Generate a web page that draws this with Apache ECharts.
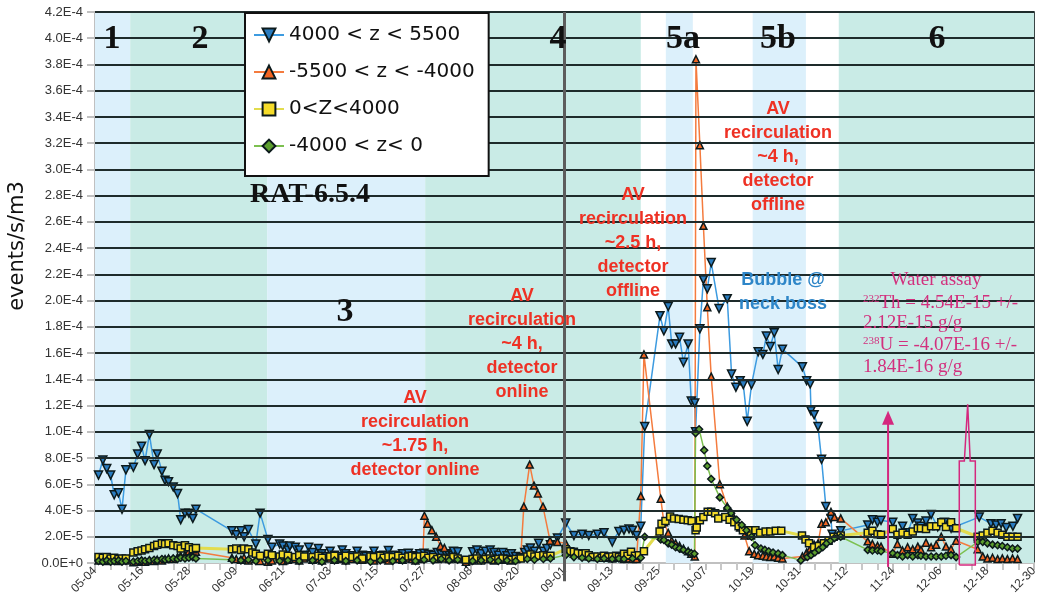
<!DOCTYPE html>
<html>
<head>
<meta charset="utf-8">
<script src="https://cdn.jsdelivr.net/npm/echarts@6.0.0/dist/echarts.min.js"></script>
<style>
html, body { margin: 0; padding: 0; background: #fff; }
#chart { width: 1042px; height: 610px; }
</style>
</head>
<body>
<div id="chart"></div>
<script>
// x = days since 05-04, y = rate in units of 1E-5 events/s/m3
var dayTicks = ['05-04', '05-16', '05-28', '06-09', '06-21', '07-03', '07-15', '07-27', '08-08', '08-20', '09-01',
    '09-13', '09-25', '10-07', '10-19', '10-31', '11-12', '11-24', '12-06', '12-18', '12-30'];

var seriesNames = ['4000 < z < 5500', '-5500 < z < -4000', '0<Z<4000', '-4000 < z< 0'];

var topZ = [[0.9,6.7],[2.0,7.85],[3.0,7.2],[4.0,6.7],[4.9,5.2],[6.0,5.35],[6.9,4.1],[7.9,7.1],[9.8,7.3],[10.9,8.3],
    [11.9,8.9],[12.8,7.8],[13.9,9.8],[15.1,7.5],[15.9,8.3],[17.1,7.0],[17.9,6.3],[18.8,6.2],[20.0,5.8],[21.1,5.3],
    [21.9,3.3],[23.0,3.8],[24.0,3.8],[25.0,3.4],[25.8,4.1],[35.0,2.45],[36.1,2.15],[37.3,2.45],[38.1,2.0],[39.2,2.55],
    [41.1,1.45],[42.2,3.8],[44.2,1.8],[45.2,1.2],[47.2,1.45],[48.0,1.3],[49.3,1.0],[49.8,1.3],[51.2,1.2],[52.2,1.0],
    [53.5,0.6],[54.6,1.2],[55.6,0.8],[57.1,1.1],[58.0,0.7],[59.1,0.5],[60.1,0.9],[61.2,0.6],[62.1,0.5],[63.2,1.0],
    [64.1,0.7],[65.0,0.5],[65.8,0.55],[67.0,0.9],[68.3,0.6],[69.2,0.5],[70.4,0.55],[71.3,0.9],[72.9,0.55],[73.8,0.6],
    [75.0,0.95],[76.1,0.6],[77.5,0.55],[78.6,0.7],[80.1,0.75],[81.0,0.5],[81.9,0.55],[83.0,0.7],[84.1,0.75],[85.2,0.65],
    [86.4,0.6],[87.5,0.8],[88.5,0.65],[89.6,0.7],[90.5,0.6],[91.6,0.9],[92.7,0.85],[94.8,0.0],[96.5,0.85],[97.6,1.0],
    [98.7,0.7],[99.8,0.9],[101.0,1.0],[102.0,0.8],[103.1,0.6],[104.2,0.8],[105.3,0.55],[106.4,0.7],[107.5,0.5],[108.8,0.4],
    [109.8,0.8],[110.5,1.0],[111.3,1.15],[112.3,0.9],[113.4,1.5],[114.6,0.9],[115.5,1.1],[116.4,1.4],[118.2,1.9],[120.3,3.05],
    [122.4,2.1],[124.5,2.2],[126.2,2.1],[128.4,2.2],[130.1,2.3],[132.2,1.6],[133.9,2.4],[135.2,2.5],[136.5,2.6],[137.4,2.5],
    [138.4,2.1],[139.5,2.8],[140.5,10.4],[144.4,18.85],[145.4,17.7],[146.5,19.55],[147.4,16.7],[148.4,16.7],[149.4,17.2],[150.4,15.3],
    [151.6,16.7],[152.4,12.35],[153.3,12.2],[153.5,10.0],[154.6,17.85],[155.5,21.6],[156.5,20.9],[157.5,22.9],[159.5,19.4],[161.6,20.15],
    [162.7,14.4],[163.8,13.4],[164.9,13.9],[165.7,13.6],[166.7,10.8],[167.8,13.6],[169.5,16.1],[170.7,15.9],[171.6,17.3],[172.6,16.5],
    [173.6,17.55],[174.6,14.75],[175.7,16.3],[180.8,14.95],[181.9,13.9],[182.8,13.65],[183.0,11.6],[183.8,11.3],[184.8,10.4],[185.7,7.9],
    [186.8,4.3],[188.1,3.4],[188.4,2.2],[190.6,2.45],[197.5,2.9],[198.7,3.3],[200.0,3.1],[200.9,3.25],[203.9,3.1],[205.1,2.0],
    [206.4,2.8],[207.7,2.3],[209.0,3.4],[210.3,3.05],[211.1,2.8],[212.4,3.2],[213.7,3.7],[215.4,2.75],[217.1,3.1],[218.8,2.65],
    [226.0,3.5],[229.0,3.0],[230.3,2.9],[231.6,3.0],[232.9,2.7],[234.6,2.8],[235.8,3.4]];

var bottomZ = [[0.9,0.2],[2.0,0.25],[3.0,0.15],[4.0,0.3],[4.9,0.2],[6.0,0.15],[6.9,0.25],[7.9,0.2],[9.8,0.05],[10.9,0.1],
    [11.9,0.15],[12.8,0.1],[13.9,0.2],[15.1,0.15],[15.9,0.25],[17.1,0.2],[17.9,0.3],[18.8,0.35],[20.0,0.3],[21.1,0.45],
    [21.9,0.55],[23.0,0.6],[24.0,0.9],[25.0,1.0],[25.8,0.85],[35.0,0.4],[36.1,0.3],[37.3,0.25],[38.1,0.4],[39.2,0.2],
    [41.1,0.3],[42.2,0.15],[44.2,0.1],[45.2,0.2],[47.2,0.3],[48.0,0.15],[49.3,0.25],[51.2,0.3],[52.2,0.2],[53.5,0.35],
    [55.6,0.25],[57.1,0.3],[58.0,0.2],[60.1,0.35],[61.2,0.25],[63.2,0.3],[64.1,0.2],[65.8,0.3],[67.0,0.4],[68.3,0.25],
    [70.4,0.3],[71.3,0.2],[72.9,0.35],[73.8,0.3],[75.0,0.2],[76.1,0.35],[77.5,0.3],[78.6,0.25],[80.1,0.35],[81.0,0.3],
    [81.9,0.2],[83.0,0.3],[83.8,0.35],[84.2,3.6],[85.0,3.0],[86.1,2.5],[87.2,2.0],[88.3,1.3],[89.3,1.15],[90.5,0.6],
    [91.6,0.4],[92.7,0.3],[94.8,0.1],[96.5,0.2],[97.6,0.3],[98.7,0.25],[99.8,0.35],[101.0,0.3],[102.0,0.2],[103.1,0.3],
    [104.2,0.25],[105.3,0.35],[106.4,0.2],[107.5,0.3],[108.8,0.4],[109.6,4.3],[111.1,7.5],[112.2,5.9],[113.2,5.3],[114.5,4.3],
    [116.3,1.7],[118.2,1.6],[120.3,1.5],[121.5,0.9],[122.4,0.7],[124.5,0.6],[126.2,0.5],[128.4,0.45],[130.1,0.4],[132.2,0.35],
    [133.9,0.4],[135.2,0.3],[136.5,0.35],[137.4,0.3],[138.4,0.3],[139.5,5.1],[140.3,15.9],[144.6,4.9],[145.4,3.1],[146.5,2.3],
    [147.4,1.7],[148.4,1.5],[149.4,1.3],[150.4,1.1],[151.6,0.9],[152.4,0.7],[153.3,0.5],[153.6,38.4],[154.6,31.85],[155.5,25.7],
    [156.5,19.5],[157.5,14.2],[159.7,6.0],[161.6,4.3],[162.7,3.8],[163.8,3.25],[164.9,2.7],[166.0,2.1],[167.2,0.9],[168.5,0.7],
    [169.5,0.6],[170.7,0.55],[171.6,0.5],[172.6,0.45],[173.6,0.5],[174.6,0.4],[175.7,0.35],[180.8,0.5],[181.9,0.8],[182.8,1.1],
    [183.8,1.4],[184.8,1.5],[185.7,3.0],[186.8,3.1],[188.1,3.9],[189.0,3.5],[190.6,3.4],[197.5,1.65],[198.7,1.45],[200.0,1.3],
    [200.9,1.25],[203.9,0.7],[205.1,1.45],[206.4,0.95],[207.7,1.2],[209.0,1.05],[210.3,1.25],[211.1,1.0],[212.4,1.55],[213.7,1.2],
    [215.0,1.4],[216.3,2.0],[217.5,1.25],[218.8,1.05],[220.1,1.7],[225.6,1.05],[226.9,0.5],[228.1,0.35],[229.4,0.4],[230.7,0.3],
    [231.9,0.35],[233.2,0.3],[234.5,0.35],[235.8,0.3]];

var upperMid = [[0.9,0.45],[2.0,0.4],[3.0,0.45],[4.0,0.35],[4.9,0.4],[6.0,0.3],[6.9,0.35],[7.9,0.35],[9.8,0.8],[10.9,0.9],
    [11.9,0.95],[12.8,1.05],[13.9,1.15],[15.1,1.3],[15.9,1.4],[17.1,1.5],[17.9,1.45],[18.8,1.5],[20.0,1.35],[21.1,1.3],
    [21.9,1.1],[23.0,1.35],[24.0,1.2],[25.0,1.05],[25.8,1.15],[35.0,1.05],[36.1,1.1],[37.3,1.0],[38.1,1.1],[39.2,1.05],
    [40.2,0.8],[41.1,0.7],[42.2,0.55],[44.2,0.7],[45.2,0.6],[47.2,0.5],[48.0,0.65],[49.3,0.55],[51.2,0.45],[52.2,0.6],
    [53.5,0.5],[55.6,0.45],[57.1,0.55],[58.0,0.4],[60.1,0.5],[61.2,0.55],[63.2,0.4],[64.1,0.55],[65.8,0.45],[67.0,0.5],
    [68.3,0.35],[70.4,0.5],[71.3,0.45],[72.9,0.55],[73.8,0.4],[75.0,0.5],[76.1,0.45],[77.5,0.55],[78.6,0.4],[80.1,0.5],
    [81.0,0.55],[81.9,0.45],[83.0,0.5],[84.1,0.55],[85.2,0.4],[86.4,0.45],[87.5,0.3],[88.5,0.4],[89.6,0.35],[90.5,0.3],
    [91.6,0.45],[92.7,0.35],[94.8,0.25],[96.5,0.3],[97.6,0.35],[98.7,0.2],[99.8,0.3],[101.0,0.35],[102.0,0.25],[103.1,0.3],
    [104.2,0.35],[105.3,0.3],[106.4,0.25],[107.5,0.3],[108.8,0.35],[110.5,0.5],[111.3,0.65],[112.3,0.5],[113.4,0.55],[114.6,0.6],
    [115.5,0.5],[116.4,0.55],[120.3,1.05],[121.5,0.9],[122.4,0.85],[123.4,0.75],[124.5,0.7],[125.4,0.75],[126.2,0.6],[127.2,0.45],
    [128.4,0.5],[129.5,0.4],[130.1,0.55],[131.2,0.45],[132.2,0.5],[133.2,0.55],[133.9,0.45],[135.2,0.7],[136.1,0.55],[137.0,0.85],
    [138.0,0.55],[139.0,0.6],[140.3,0.9],[144.3,2.4],[144.8,3.0],[145.8,3.2],[147.0,3.55],[148.0,3.4],[149.2,3.35],[150.4,3.3],
    [151.5,3.25],[152.5,3.2],[153.5,2.5],[153.8,2.7],[154.6,3.25],[155.5,3.5],[156.6,3.9],[157.5,3.9],[158.5,3.8],[159.3,3.4],
    [161.1,3.5],[162.2,3.3],[163.4,3.1],[164.5,2.8],[165.6,2.5],[167.0,2.5],[167.7,2.1],[168.8,2.5],[170.0,2.3],[171.4,2.4],
    [172.6,2.4],[174.0,2.45],[175.4,2.45],[180.7,2.1],[181.6,1.8],[182.5,1.5],[183.8,1.2],[185.0,1.3],[186.3,1.5],[187.5,1.7],
    [188.8,2.0],[190.6,2.1],[197.5,2.3],[198.7,2.45],[200.0,2.2],[200.9,2.15],[203.9,2.6],[205.1,2.15],[206.4,2.3],[207.7,2.15],
    [209.0,2.4],[210.3,2.65],[211.1,2.65],[212.4,2.6],[213.7,2.8],[215.0,2.8],[216.3,3.1],[217.5,2.75],[218.8,3.1],[220.1,2.65],
    [225.6,2.0],[226.9,2.1],[228.1,2.3],[229.4,2.45],[230.7,2.3],[231.9,2.15],[233.2,2.0],[234.5,2.0],[235.8,2.0]];

var lowerMid = [[0.9,0.15],[2.0,0.1],[3.0,0.2],[4.0,0.1],[4.9,0.15],[6.0,0.2],[6.9,0.1],[7.9,0.15],[9.8,0.1],[10.9,0.15],
    [11.9,0.2],[12.8,0.15],[13.9,0.2],[15.1,0.25],[15.9,0.2],[17.1,0.3],[17.9,0.25],[18.8,0.3],[20.0,0.35],[21.1,0.3],
    [21.9,0.4],[23.0,0.35],[24.0,0.4],[25.0,0.45],[25.8,0.35],[35.0,0.25],[37.3,0.2],[39.2,0.25],[41.1,0.15],[44.2,0.2],
    [47.2,0.15],[49.3,0.2],[52.2,0.15],[55.6,0.2],[58.0,0.1],[61.2,0.2],[64.1,0.15],[67.0,0.2],[70.4,0.1],[72.9,0.2],
    [76.1,0.15],[78.6,0.2],[81.9,0.15],[84.1,0.25],[86.4,0.2],[88.5,0.3],[90.5,0.2],[92.7,0.25],[96.5,0.15],[98.7,0.2],
    [101.0,0.25],[103.1,0.15],[105.3,0.2],[107.5,0.15],[110.5,0.3],[112.3,0.25],[114.6,0.3],[116.4,0.35],[120.3,0.6],[122.4,0.45],
    [124.5,0.4],[126.2,0.35],[128.4,0.3],[130.1,0.35],[132.2,0.3],[133.9,0.35],[135.2,0.3],[137.4,0.35],[139.5,0.4],[140.5,2.0],
    [144.6,1.8],[145.4,1.75],[146.5,1.5],[147.4,1.4],[148.4,1.2],[149.4,1.1],[150.4,1.0],[151.6,0.85],[152.4,0.75],[153.2,0.7],
    [153.5,9.9],[154.4,10.2],[155.7,8.6],[156.5,7.4],[157.5,6.4],[159.7,5.0],[161.6,4.2],[162.6,3.8],[164.0,3.3],[165.3,2.9],
    [166.5,2.5],[167.8,2.0],[168.7,1.35],[170.2,1.1],[171.2,1.0],[172.2,0.9],[173.3,0.8],[174.6,0.72],[175.7,0.6],[180.4,0.2],
    [182.1,0.46],[183.0,0.6],[184.0,0.8],[185.0,1.0],[186.0,1.2],[187.0,1.5],[188.0,1.7],[189.0,1.9],[190.6,2.0],[197.5,1.0],
    [198.7,0.95],[200.0,0.95],[200.9,0.9],[203.9,0.75],[205.1,0.6],[206.4,0.5],[207.7,0.6],[209.0,0.5],[210.3,0.6],[211.1,0.55],
    [212.4,0.5],[213.7,0.5],[215.0,0.5],[216.3,0.5],[217.5,0.55],[218.8,0.6],[220.1,0.45],[225.6,1.6],[226.9,1.6],[228.1,1.5],
    [229.4,1.4],[230.7,1.35],[231.9,1.3],[233.2,1.2],[234.5,1.1],[235.8,1.1]];

// shaded run periods: [from day, to day, low, high, colour]
var bands = [
    [0, 9, 0, 42, '#dcf0fb'],
    [9, 44, 0, 42, '#c9ebe6'],
    [44, 84.4, 29.4, 42, '#c9ebe6'],
    [44, 84.4, 0, 29.4, '#dcf0fb'],
    [84.4, 139.5, 0, 42, '#c9ebe6'],
    [145.9, 152.8, 0, 42, '#dcf0fb'],
    [168.1, 181.7, 0, 42, '#dcf0fb'],
    [190.1, 240, 0, 42, '#c9ebe6']
];

var gridValues = [2, 4, 6, 8, 10, 12, 14, 16, 18, 20, 22, 24, 26, 28, 30, 32, 34, 36, 38, 40, 42];

var chart = echarts.init(document.getElementById('chart'));

function makeSeries(name, data, symbol, rotate, size, fill, lineColor, lineWidth) {
    return {
        name: name,
        type: 'line',
        data: data,
        symbol: symbol,
        symbolRotate: rotate,
        symbolSize: size,
        z: 3,
        itemStyle: {color: fill, borderColor: '#0c1a1c', borderWidth: 1.5},
        lineStyle: {color: lineColor, width: lineWidth}
    };
}

chart.setOption({
    animation: false,
    grid: {left: 95, right: 8, top: 12, bottom: 47},
    legend: {
        orient: 'vertical',
        left: 245, top: 13,
        z: 20,
        padding: [12, 14, 20, 8],
        itemGap: 17,
        itemWidth: 30, itemHeight: 16,
        backgroundColor: '#fff',
        borderColor: '#111', borderWidth: 2,
        textStyle: {fontSize: 20, color: '#111', fontFamily: 'DejaVu Sans'},
        data: seriesNames
    },
    xAxis: {
        type: 'value', min: 0, max: 240, interval: 12,
        axisLine: {lineStyle: {color: '#c0c0c0', width: 2}},
        axisTick: {show: true, length: 7, lineStyle: {color: '#c0c0c0', width: 2}},
        minorTick: {show: true, splitNumber: 3, length: 7, lineStyle: {color: '#c8c8c8', width: 2}},
        axisLabel: {rotate: 45, fontSize: 12, color: '#333', margin: 6, fontFamily: 'Liberation Sans',
            formatter: function (v) { return dayTicks[Math.round(v / 12)]; }},
        splitLine: {show: false}
    },
    yAxis: [{
        type: 'value', min: 0, max: 42, interval: 2,
        axisLine: {show: true, lineStyle: {color: '#c0c0c0', width: 2}},
        axisTick: {show: true, length: 8, lineStyle: {color: '#c0c0c0', width: 2}},
        axisLabel: {fontSize: 13, color: '#333', margin: 12, fontFamily: 'Liberation Sans',
            formatter: function (v) { return (v * 1e-5).toExponential(1).toUpperCase(); }},
        splitLine: {show: false}
    }, {
        type: 'value', min: 0, max: 42, interval: 2, position: 'right',
        axisLine: {show: true, lineStyle: {color: '#3a4545', width: 2}},
        axisTick: {show: false}, axisLabel: {show: false}, splitLine: {show: false}
    }],
    series: [
        {
            type: 'line', data: [], z: 1, silent: true,
            markArea: {
                silent: true,
                data: bands.map(function (b) {
                    return [{xAxis: b[0], yAxis: b[2], itemStyle: {color: b[4]}}, {xAxis: b[1], yAxis: b[3]}];
                })
            }
        },
        {
            type: 'line', data: [], z: 2, silent: true,
            markLine: {
                silent: true, symbol: 'none', label: {show: false},
                lineStyle: {color: '#1e2b2b', width: 2, type: 'solid'},
                data: gridValues.map(function (v) { return {yAxis: v}; })
            }
        },
        makeSeries(seriesNames[0], topZ, 'triangle', 180, 8, '#2a7cc0', '#3d9be0', 1.5),
        makeSeries(seriesNames[1], bottomZ, 'triangle', 0, 7, '#f26522', '#f47b3e', 1.5),
        makeSeries(seriesNames[2], upperMid, 'rect', 0, 7, '#f5dc2a', '#e2dc4e', 3),
        makeSeries(seriesNames[3], lowerMid, 'diamond', 0, 7, '#5c9e2e', '#7cc050', 1.5)
    ]
});

// annotation text and shapes
var redText = {fill: '#ee3124', fontSize: 18, fontWeight: 'bold', fontFamily: 'Liberation Sans', lineHeight: 24, align: 'center', verticalAlign: 'middle'};
var numText = {fill: '#111', fontSize: 34, fontWeight: 'bold', fontFamily: 'Liberation Serif', align: 'center', verticalAlign: 'middle'};
var assayText = {fill: '#d2307e', fontSize: 19, fontFamily: 'Liberation Serif', verticalAlign: 'middle',
    rich: {s: {fontSize: 11, fontFamily: 'Liberation Serif', fill: '#d2307e', verticalAlign: 'top', padding: [0, 0, 8, 0]},
           n: {fontSize: 19, fontFamily: 'Liberation Serif', fill: '#d2307e'}}};

function txt(x, y, text, style) {
    return {type: 'text', x: x, y: y, z: 50, style: Object.assign({text: text}, style)};
}

var needleShape = [[220.9, -0.15], [220.9, 7.78], [222.2, 7.78], [223.05, 12.1], [223.7, 7.78], [225.0, 7.78], [225.0, -0.15], [220.9, -0.15]];
var arrowDay = 202.7, arrowTop = 11.6;

function px(p) { return chart.convertToPixel({gridIndex: 0}, p); }

var a0 = px([arrowDay, -0.3]), a1 = px([arrowDay, arrowTop]);
var v0 = px([120, 42]), v1 = px([120, -1.4]);

chart.setOption({
    graphic: [
        {type: 'text', x: 18, y: 246, rotation: Math.PI / 2, z: 50,
            style: {text: 'events/s/m3', fill: '#111', fontSize: 21, fontFamily: 'DejaVu Sans', align: 'center', verticalAlign: 'middle'}},
        {type: 'line', z: 40, shape: {x1: v0[0], y1: v0[1], x2: v1[0], y2: v1[1]}, style: {stroke: '#5c5c5c', lineWidth: 3}},
        txt(112, 39, '1', numText),
        txt(200, 39, '2', numText),
        txt(345, 312, '3', numText),
        txt(558, 39, '4', numText),
        txt(683, 39, '5a', numText),
        txt(778, 39, '5b', numText),
        txt(937, 39, '6', numText),
        txt(310, 195, 'RAT-6.5.4', Object.assign({}, numText, {fontSize: 28})),
        txt(415, 434, 'AV\nrecirculation\n~1.75 h,\ndetector online', redText),
        txt(522, 344, 'AV\nrecirculation\n~4 h,\ndetector\nonline', redText),
        txt(633, 243, 'AV\nrecirculation\n~2.5 h,\ndetector\noffline', redText),
        txt(778, 157, 'AV\nrecirculation\n~4 h,\ndetector\noffline', redText),
        txt(783, 292, 'Bubble @\nneck boss', Object.assign({}, redText, {fill: '#2e86c8'})),
        txt(936, 280, 'Water assay', Object.assign({}, assayText, {align: 'center'})),
        txt(863, 303, '{s|232}{n|Th = 4.54E-15 +/-}', assayText),
        txt(863, 323, '2.12E-15 g/g', assayText),
        txt(863, 345, '{s|238}{n|U = -4.07E-16 +/-}', assayText),
        txt(863, 367, '1.84E-16 g/g', assayText),
        {type: 'polyline', z: 40, shape: {points: needleShape.map(px)}, style: {stroke: '#d4287e', lineWidth: 1.5, fill: null}},
        {type: 'line', z: 40, shape: {x1: a0[0], y1: a0[1], x2: a1[0], y2: a1[1] + 8}, style: {stroke: '#d4287e', lineWidth: 2}},
        {type: 'polygon', z: 40, shape: {points: [[a1[0], a1[1]], [a1[0] - 6, a1[1] + 14], [a1[0] + 6, a1[1] + 14]]}, style: {fill: '#d4287e'}}
    ]
});
</script>
</body>
</html>
